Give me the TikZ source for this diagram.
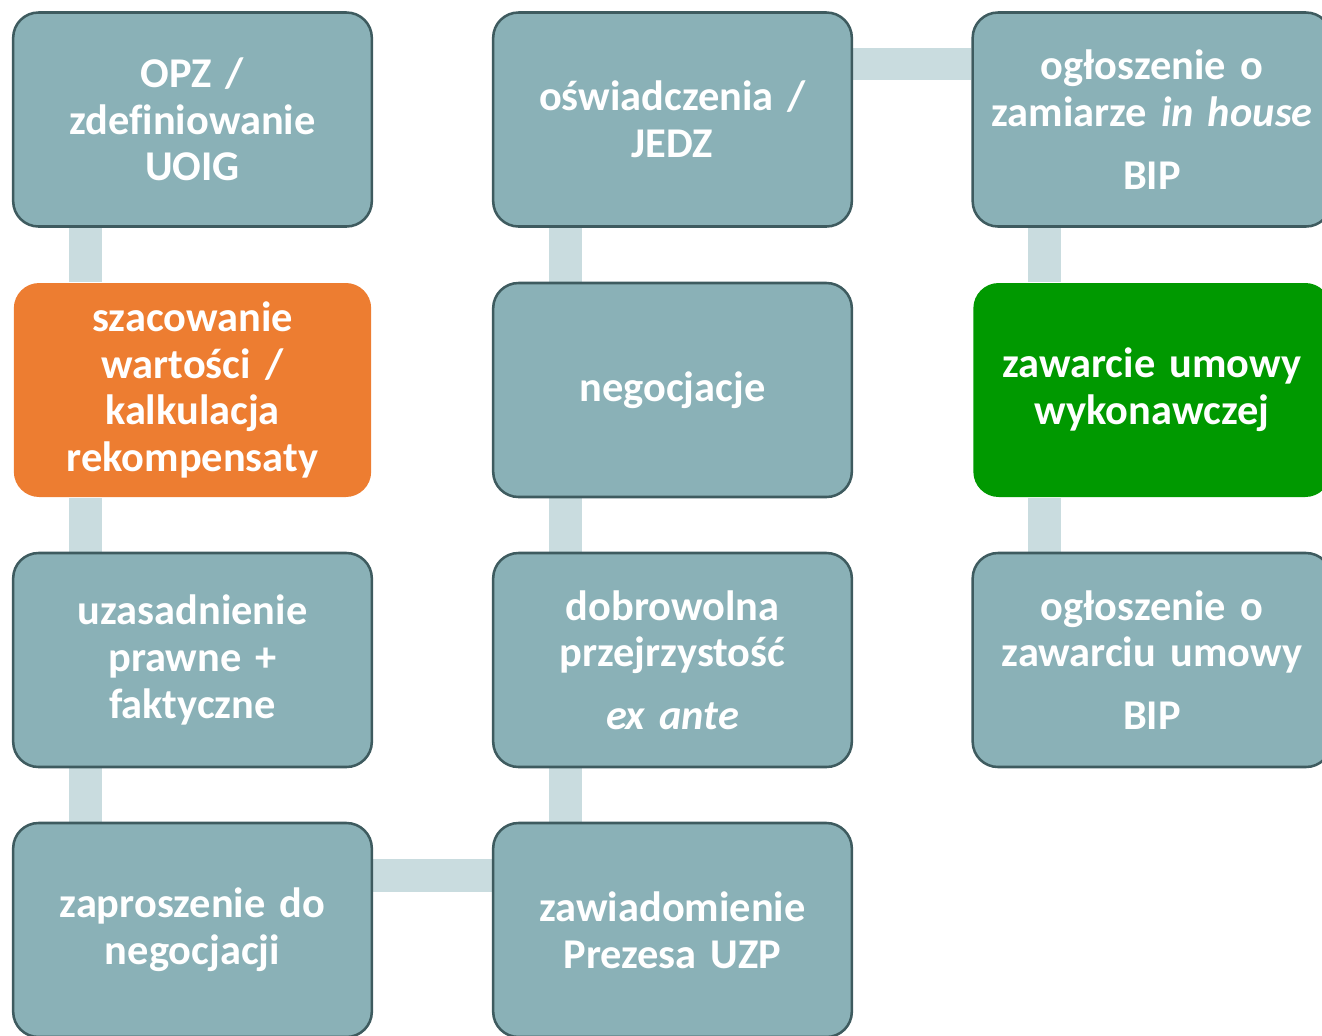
\documentclass[tikz,border=0pt]{standalone}
\usepackage{fontspec}
\setmainfont{Carlito}[Ligatures=NoCommon]
\usetikzlibrary{backgrounds,calc}
\definecolor{boxfill}{HTML}{8AB1B7}
\definecolor{boxline}{HTML}{3E5B5F}
\definecolor{connc}{HTML}{C9DCDF}
\definecolor{orangec}{HTML}{ED7D31}
\definecolor{greenc}{HTML}{009900}
\tikzset{
  box/.style={rectangle, rounded corners=19pt, fill=boxfill, draw=boxline, line width=1.9pt,
    minimum width=269pt, minimum height=160.5pt, inner sep=0pt, text width=265pt, align=center,
    text=white, font=\fontsize{31.8}{35}\selectfont\bfseries},
  plainbox/.style={box, draw=none, minimum width=268pt, minimum height=160.5pt},
  conn/.style={draw=connc, line width=24.5pt, line cap=butt}
}
\begin{document}
\begin{tikzpicture}[x=0.75pt,y=-0.75pt]
\useasboundingbox (0,0) rectangle (1322,1036);
\clip (0,0) rectangle (1322,1036);
% column 1
\node[box] (a1) at (192.5,119.5) {OPZ /\\zdefiniowanie\\UOIG};
\node[plainbox, fill=orangec] (a2) at (192.5,390) {szacowanie\\wartości /\\kalkulacja\\rekompensaty};
\node[box] (a3) at (192.5,660) {uzasadnienie\\prawne +\\faktyczne};
\node[box] (a4) at (192.5,930) {zaproszenie do\\negocjacji};
% column 2
\node[box] (b1) at (672.5,119.5) {oświadczenia /\\JEDZ};
\node[box] (b2) at (672.5,390) {negocjacje};
\node[box] (b3) at (672.5,660) {dobrowolna\\przejrzystość\\[12pt]\textit{ex ante}};
\node[box] (b4) at (672.5,930) {zawiadomienie\\Prezesa UZP};
% column 3
\node[box] (c1) at (1152,119.5) {ogłoszenie o\\zamiarze \textit{in house}\\[12pt]BIP};
\node[plainbox, fill=greenc] (c2) at (1152,390) {zawarcie umowy\\wykonawczej};
\node[box] (c3) at (1152,660) {ogłoszenie o\\zawarciu umowy\\[12pt]BIP};
% connectors
\begin{scope}[on background layer]
\draw[conn] ($(a1.south)+(-107,0)$) -- ($(a2.north)+(-107,0)$);
\draw[conn] ($(a2.south)+(-107,0)$) -- ($(a3.north)+(-107,0)$);
\draw[conn] ($(a3.south)+(-107,0)$) -- ($(a4.north)+(-107,0)$);
\draw[conn] ($(a4.east)+(0,-54.5)$) -- ($(b4.west)+(0,-54.5)$);
\draw[conn] ($(b4.north)+(-107,0)$) -- ($(b3.south)+(-107,0)$);
\draw[conn] ($(b3.north)+(-107,0)$) -- ($(b2.south)+(-107,0)$);
\draw[conn] ($(b2.north)+(-107,0)$) -- ($(b1.south)+(-107,0)$);
\draw[conn] ($(b1.east)+(0,-55.5)$) -- ($(c1.west)+(0,-55.5)$);
\draw[conn] ($(c1.south)+(-107.5,0)$) -- ($(c2.north)+(-107.5,0)$);
\draw[conn] ($(c2.south)+(-107.5,0)$) -- ($(c3.north)+(-107.5,0)$);
\end{scope}
\end{tikzpicture}
\end{document}
